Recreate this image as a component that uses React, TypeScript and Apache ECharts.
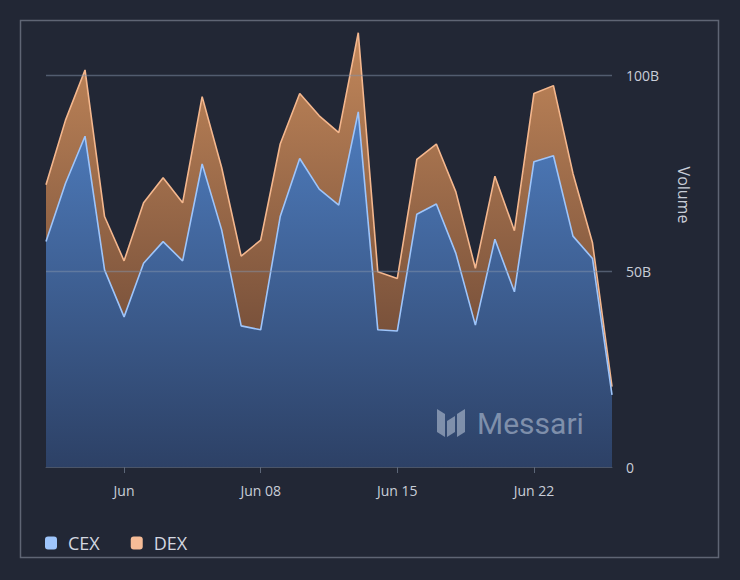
import React, { useEffect, useRef } from "react";
import * as echarts from "echarts";

const dates = [
  "May 28", "May 29", "May 30", "May 31", "Jun 01", "Jun 02", "Jun 03", "Jun 04", "Jun 05", "Jun 06",
  "Jun 07", "Jun 08", "Jun 09", "Jun 10", "Jun 11", "Jun 12", "Jun 13", "Jun 14", "Jun 15", "Jun 16",
  "Jun 17", "Jun 18", "Jun 19", "Jun 20", "Jun 21", "Jun 22", "Jun 23", "Jun 24", "Jun 25", "Jun 26",
];

// Volume in billions (USD)
const cexVolume = [
  57.5, 72.4, 84.4, 50.3, 38.3, 52.0, 57.5, 52.6, 77.3, 60.5,
  36.0, 35.0, 63.9, 78.7, 70.9, 66.8, 90.6, 35.0, 34.7, 64.5,
  67.1, 54.5, 36.2, 58.1, 44.7, 77.9, 79.4, 58.9, 53.2, 18.4,
];
const dexVolume = [
  14.5, 16.1, 16.9, 13.6, 14.3, 15.4, 16.3, 14.8, 17.2, 15.9,
  17.8, 22.9, 18.5, 16.6, 18.7, 18.5, 20.2, 14.8, 13.4, 14.0,
  15.3, 15.7, 14.5, 16.1, 15.6, 17.4, 17.9, 16.0, 4.0, 2.1,
];
const yTicks = [0, 50, 100];

const BG = "#222735";
const FONT = "'Open Sans', 'Noto Sans', sans-serif";
const WM = "rgba(205,215,230,0.5)";

export default function App() {
  const ref = useRef<HTMLDivElement>(null);
  useEffect(() => {
    document.body.style.margin = "0";
    document.body.style.background = BG;
    const chart = echarts.init(ref.current as HTMLDivElement, null, { renderer: "svg" });
    const tickIdx = (i: number) => (i - 4) % 7 === 0;
    chart.setOption({
      animation: false,
      backgroundColor: BG,
      textStyle: { fontFamily: FONT },
      grid: { left: 46, right: 128, top: 28, bottom: 113 },
      legend: {
        left: 40,
        top: 529,
        icon: "roundRect",
        itemWidth: 12,
        itemHeight: 13,
        itemGap: 31,
        textStyle: { color: "#d4d8e0", fontSize: 18, fontFamily: FONT, padding: [0, 0, 0, 6] },
        data: [
          { name: "CEX", itemStyle: { color: "#9ec5fb" } },
          { name: "DEX", itemStyle: { color: "#f6bc97" } },
        ],
      },
      xAxis: {
        type: "category",
        data: dates,
        boundaryGap: false,
        axisLine: { lineStyle: { color: "#4b5568", width: 1 } },
        axisTick: {
          interval: (i: number) => tickIdx(i),
          length: 6,
          lineStyle: { color: "#5c6678" },
        },
        axisLabel: {
          interval: (i: number) => tickIdx(i),
          color: "#c9ced8",
          fontSize: 14,
          margin: 16,
          formatter: (v: string) => (v === "Jun 01" ? "Jun" : v),
        },
        splitLine: { show: false },
      },
      yAxis: {
        type: "value",
        position: "right",
        min: yTicks[0],
        max: 112,
        interval: yTicks[1] - yTicks[0],
        z: 5,
        axisLine: { show: false },
        axisTick: { show: false },
        axisLabel: {
          showMaxLabel: false,
          color: "#c9ced8",
          fontSize: 14,
          margin: 14,
          formatter: (v: number) => (v === 0 ? "0" : `${v}B`),
        },
        splitLine: {
          showMaxLine: false,
          showMinLine: false,
          lineStyle: { color: "rgba(130,145,170,0.5)", width: 1.3 },
        },
      },
      series: [
        {
          name: "CEX",
          type: "line",
          stack: "vol",
          data: cexVolume,
          showSymbol: false,
          lineStyle: { color: "#9ec5fb", width: 1.6 },
          itemStyle: { color: "#9ec5fb" },
          areaStyle: {
            opacity: 1,
            color: new echarts.graphic.LinearGradient(0, 0, 0, 1, [
              { offset: 0, color: "#4e7cbd" },
              { offset: 1, color: "#2d4166" },
            ]),
          },
          z: 3,
        },
        {
          name: "DEX",
          type: "line",
          stack: "vol",
          data: dexVolume,
          showSymbol: false,
          lineStyle: { color: "#f4b78e", width: 1.6 },
          itemStyle: { color: "#f6bc97" },
          areaStyle: {
            opacity: 1,
            color: new echarts.graphic.LinearGradient(0, 0, 0, 1, [
              { offset: 0, color: "#c2875a" },
              { offset: 1, color: "#6a4634" },
            ]),
          },
          z: 2,
        },
      ],
      graphic: [
        {
          type: "rect",
          z: 0,
          shape: { x: 20.5, y: 20.5, width: 698, height: 537 },
          style: { fill: "none", stroke: "#5f6574", lineWidth: 1.5 },
          silent: true,
        },
        {
          type: "text",
          x: 684,
          y: 195,
          rotation: -Math.PI / 2,
          style: {
            text: "Volume",
            fill: "#c9ced8",
            fontSize: 16,
            fontFamily: FONT,
            align: "center",
            verticalAlign: "middle",
          },
        },
        {
          type: "polygon",
          z: 100,
          silent: true,
          shape: { points: [[437, 409], [445, 414], [445, 437], [437, 432]] },
          style: { fill: WM },
        },
        {
          type: "polygon",
          z: 100,
          silent: true,
          shape: { points: [[447, 421], [455, 416], [455, 432], [447, 437]] },
          style: { fill: WM },
        },
        {
          type: "polygon",
          z: 100,
          silent: true,
          shape: { points: [[457, 414], [465, 409], [465, 432], [457, 437]] },
          style: { fill: WM },
        },
        {
          type: "text",
          z: 100,
          silent: true,
          x: 477,
          y: 423,
          style: {
            text: "Messari",
            fill: WM,
            fontSize: 30,
            fontFamily: "Roboto, 'Open Sans', sans-serif",
            verticalAlign: "middle",
          },
        },
      ],
    });
    return () => chart.dispose();
  }, []);
  return <div ref={ref} style={{ width: 740, height: 580, position: "absolute", left: 0, top: 0 }} />;
}
